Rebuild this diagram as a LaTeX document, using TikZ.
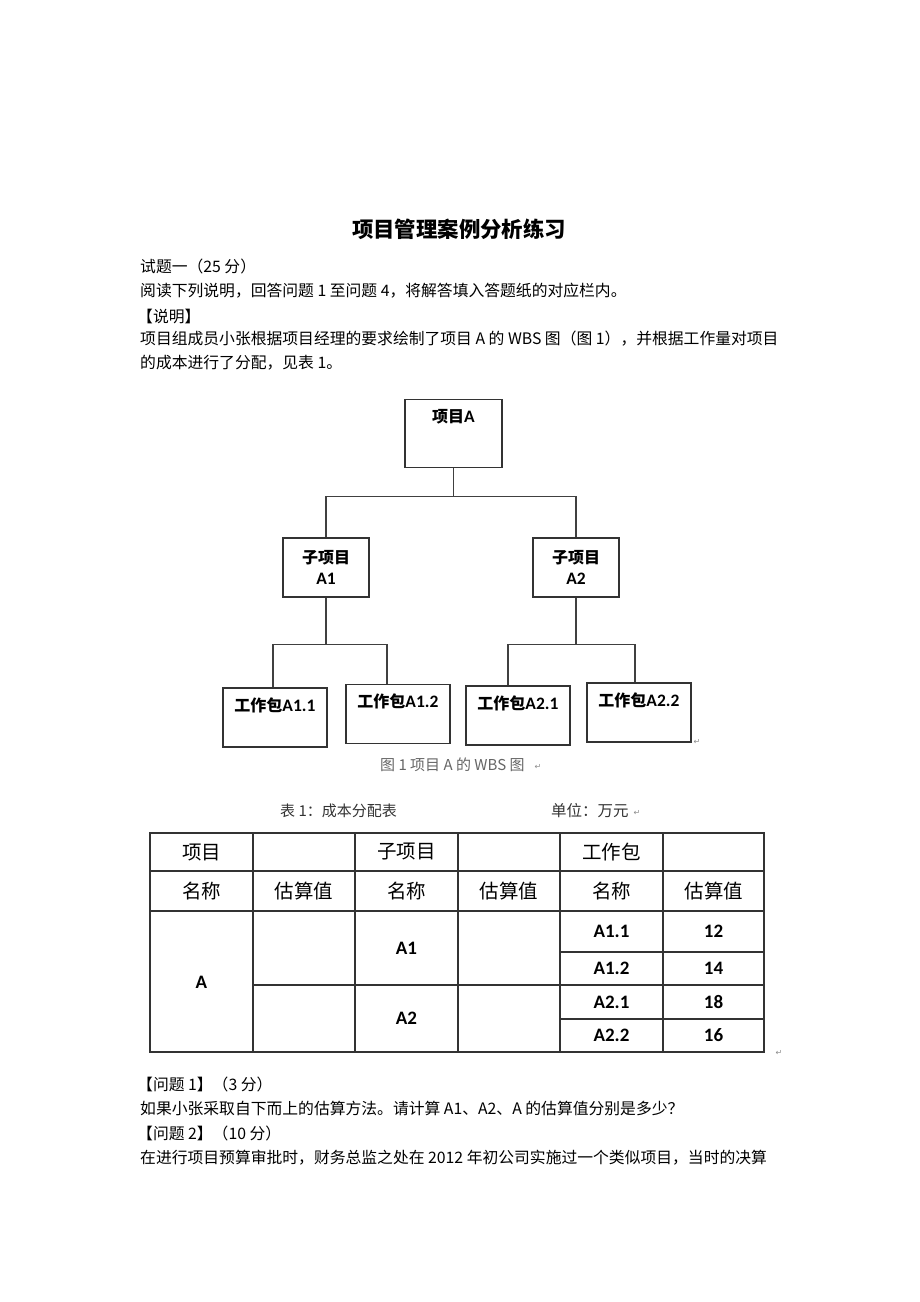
\documentclass[tikz,border=0pt]{standalone}
\usepackage{fontspec}
\setmainfont{Noto Sans CJK SC}
\newfontfamily\latinb{Carlito}
\newfontfamily\symb{DejaVu Sans}
\newcommand\boxlatin[1]{{\latinb\fontsize{17.5}{21}\selectfont #1}}
\usetikzlibrary{positioning}

\tikzset{
  wbs/.style={draw=black!80, line width=1.1pt, inner xsep=0pt, align=center},
  topbox/.style={wbs, minimum width=97pt, inner ysep=11pt, text height=12pt, text depth=34pt, font=\fontsize{16}{19}\selectfont\bfseries},
  subbox/.style={wbs, minimum width=86pt, minimum height=59pt, inner ysep=0pt, font=\fontsize{16}{21}\selectfont\bfseries},
  pkgbox/.style={wbs, minimum width=104pt, inner ysep=11pt, text height=12pt, text depth=25pt, font=\fontsize{16}{19}\selectfont\bfseries},
  wire/.style={draw=black!75, line width=1.1pt},
  bodytext/.style={anchor=west, inner sep=0pt, font=\fontsize{15.8}{19}\selectfont},
  tabline/.style={draw=black!80, line width=1.2pt},
  thead/.style={font=\fontsize{19.5}{23}\selectfont},
  tval/.style={font=\latinb\bfseries\fontsize{19}{23}\selectfont},
  retmark/.style={font=\symb\fontsize{8}{8}\selectfont, text=black!45, inner sep=0pt},
}

\begin{document}
\begin{tikzpicture}[x=1pt, y=-1pt, on grid]
  \fill[white] (0,0) rectangle (920,1302);
  \useasboundingbox (0,0) rectangle (920,1302);

  % heading and text above the figure
  \node[font=\fontsize{21.4}{24}\selectfont\bfseries] (title) at (459,229) {项目管理案例分析练习};
  \node[bodytext] (l1) at (140,266) {试题一（25 分）};
  \node[bodytext] (l2) at (140,291) {阅读下列说明，回答问题 1 至问题 4，将解答填入答题纸的对应栏内。};
  \node[bodytext] (l3) at (137,316) {【说明】};
  \node[bodytext] (l4) at (140,339) {项目组成员小张根据项目经理的要求绘制了项目 A 的 WBS 图（图 1），并根据工作量对项目};
  \node[bodytext] (l5) at (140,363) {的成本进行了分配，见表 1。};

  % WBS tree
  \node[topbox] (pa) at (453.5,433.5) {项目\boxlatin{A}};
  \node[subbox] (a1) [below left=134pt and 127.5pt of pa]  {子项目\\\boxlatin{A1}};
  \node[subbox] (a2) [below right=134pt and 122.5pt of pa] {子项目\\\boxlatin{A2}};
  \node[pkgbox] (a11) [below left=150pt and 51pt of a1]    {工作包\boxlatin{A1.1}};
  \node[pkgbox] (a12) [below right=146.5pt and 72pt of a1] {工作包\boxlatin{A1.2}};
  \node[pkgbox] (a21) [below left=148pt and 58pt of a2]    {工作包\boxlatin{A2.1}};
  \node[pkgbox] (a22) [below right=145pt and 63pt of a2]   {工作包\boxlatin{A2.2}};

  \draw[wire] (pa.south) -- ++(0,28) -| (a1.north);
  \draw[wire] (pa.south) -- ++(0,28) -| (a2.north);
  \draw[wire] (a1.south) -- ++(0,47) -| ([xshift=-2pt]a11.north);
  \draw[wire] (a1.south) -- ++(0,47) -| ([xshift=-11pt]a12.north);
  \draw[wire] (a2.south) -- ++(0,47) -| ([xshift=-10pt]a21.north);
  \draw[wire] (a2.south) -- ++(0,47) -| ([xshift=-4pt]a22.north);
  \node[retmark] (r1) at (697,742) {↵};

  \node[anchor=west, inner sep=0pt, text=black!60, font=\fontsize{15}{18}\selectfont] (figcap) at (380,765) {图 1 项目 A 的 WBS 图};
  \node[retmark] (r2) at (538,767) {↵};

  % table 1
  \node[anchor=west, inner sep=0pt, text=black!80, font=\fontsize{15}{18}\selectfont] (tcap) at (280,811) {表 1：成本分配表};
  \node[anchor=west, inner sep=0pt, text=black!80, font=\fontsize{15.5}{18}\selectfont] (unit) at (551,811) {单位：万元};
  \node[retmark] (r3) at (637,813) {↵};

  \draw[tabline] (150,833) rectangle (764,1052);
  \foreach \x in {253,355,458,560,663}
    \draw[tabline] (\x,833) -- (\x,1052);
  \draw[tabline] (150,871) -- (764,871);
  \draw[tabline, line width=1.8pt] (150,911) -- (764,911);
  \draw[tabline] (253,985) -- (764,985);
  \draw[tabline] (560,952) -- (764,952) (560,1019) -- (764,1019);

  \node[thead] (ha) at (201.5,852) {项目};
  \node[thead] (hb) at (406.5,852) {子项目};
  \node[thead] (hc) at (611.5,852) {工作包};
  \foreach \x [count=\i] in {201.5,406.5,611.5} {
    \node[thead] (nm\i) at (\x,891) {名称};
    \node[thead] (es\i) at (\x+102.5,891) {估算值};
  }
  \node[tval] (va) at (201.5,982) {A};
  \node[tval] (va1) at (406.5,948) {A1};
  \node[tval] (va2) at (406.5,1018) {A2};
  \foreach \n/\v/\y [count=\i] in {A1.1/12/931, A1.2/14/968, A2.1/18/1002, A2.2/16/1035} {
    \node[tval] (wp\i) at (611.5,\y) {\n};
    \node[tval] (wv\i) at (713.5,\y) {\v};
  }
  \node[retmark] (r4) at (779,1053) {↵};

  % questions below the table
  \node[bodytext] (q1) at (137,1084) {【问题 1】（3 分）};
  \node[bodytext] (q1t) at (140,1108) {如果小张采取自下而上的估算方法。请计算 A1、A2、A 的估算值分别是多少？};
  \node[bodytext] (q2) at (137,1133) {【问题 2】（10 分）};
  \node[bodytext] (q2t) at (140,1158) {在进行项目预算审批时，财务总监之处在 2012 年初公司实施过一个类似项目，当时的决算};
\end{tikzpicture}
\end{document}
